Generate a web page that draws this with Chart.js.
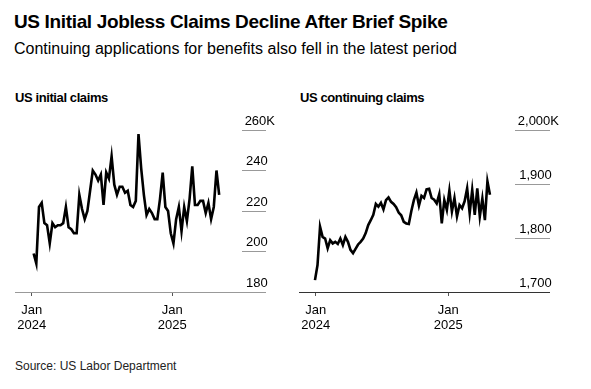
<!DOCTYPE html>
<html><head><meta charset="utf-8">
<script src="https://cdn.jsdelivr.net/npm/chart.js@4/dist/chart.umd.min.js"></script>
<style>
html,body{margin:0;padding:0;background:#fff;}
#wrap{position:relative;width:591px;height:389px;overflow:hidden;font-family:"Liberation Sans",Arial,sans-serif;color:#000;background:#fff;}
.t{position:absolute;white-space:nowrap;line-height:1;}
#title{left:14px;top:12px;font-size:19px;font-weight:bold;letter-spacing:-0.35px;}
#sub{left:14px;top:41px;font-size:16px;}
.pt{top:90.5px;font-size:13px;font-weight:bold;letter-spacing:-0.4px;}
#src{left:15px;top:360px;font-size:12px;color:#222;}
.box{position:absolute;top:105px;height:227px;}
</style></head>
<body><div id="wrap">
<div class="t" id="title">US Initial Jobless Claims Decline After Brief Spike</div>
<div class="t" id="sub">Continuing applications for benefits also fell in the latest period</div>
<div class="t pt" style="left:15px">US initial claims</div>
<div class="t pt" style="left:300px">US continuing claims</div>
<div class="t" id="src">Source: US Labor Department</div>
<div class="box" style="left:0;width:285px"><canvas id="c1"></canvas></div>
<div class="box" style="left:285px;width:306px"><canvas id="c2"></canvas></div>
</div>
<script>
// ---- data (weekly, thousands) ----
const initialStart = '2024-01-06';   // first week ending date, initial claims
const continuingStart = '2023-12-30'; // first week ending date, continuing claims
const initialClaims = [199,194,222,224,214,213,204,214,212,213,
  213,214,222,212,211,209,209,228,221,216,
  220,230,240,238,235,238,223,239,236,247,
  233,228,232,232,229,230,223,222,225,258,
  241,228,218,221,219,216,216,226,239,222,
  220,209,204,216,222,210,222,215,226,242,
  223,223,225,225,219,224,216,222,240,228];
const continuingClaims = [1722,1750,1821,1802,1799,1781,1796,1790,1793,1789,
  1799,1787,1802,1793,1778,1772,1780,1788,1793,1799,
  1809,1824,1833,1843,1863,1858,1865,1853,1870,1875,
  1867,1863,1857,1847,1842,1830,1827,1826,1850,1870,
  1884,1860,1878,1874,1890,1891,1874,1871,1864,1881,
  1827,1870,1852,1888,1849,1874,1840,1861,1855,1868,
  1892,1846,1889,1843,1892,1840,1873,1833,1905,1880];
const xTickDates = ['2024-01-01','2025-01-01'];
const xTickLabels = [['Jan','2024'],['Jan','2025']];
const leftYTicks = [180,200,220,240,260];
const leftYLabels = ['180','200','220','240','260K'];
const rightYTicks = [1700,1800,1900,2000];
const rightYLabels = ['1,700','1,800','1,900','2,000K'];

const ORIGIN = Date.UTC(2024,0,1);
function dayOf(s){const p=s.split('-').map(Number);return (Date.UTC(p[0],p[1]-1,p[2])-ORIGIN)/86400000;}
function weekly(start,n){const d0=dayOf(start);const out=[];for(let i=0;i<n;i++)out.push(d0+7*i);return out;}
const xTickDays = xTickDates.map(dayOf);
const FS = '\u2007';

function makeChart(id, startDate, values, yTicks, yLabels, o){
  const days = weekly(startDate, values.length);
  const pts = values.map((v,i)=>({x:days[i], y:v}));
  return new Chart(document.getElementById(id), {
    type:'line',
    data:{datasets:[{data:pts,borderColor:'#000',borderWidth:2.6,pointRadius:0,tension:0,fill:false}]},
    options:{
      responsive:true, maintainAspectRatio:false, animation:false,
      layout:{padding:{left:o.padL,right:o.padR,top:25,bottom:0}},
      plugins:{legend:{display:false},tooltip:{enabled:false}},
      scales:{
        x:{type:'linear',min:o.xmin,max:o.xmax,
          afterBuildTicks:s=>{s.ticks=xTickDays.map(v=>({value:v}));},
          afterFit:s=>{s.height=40;s.paddingLeft=0;s.paddingRight=0;},
          border:{display:true,color:o.axisColor,width:1},
          grid:{display:true,drawOnChartArea:false,drawTicks:true,tickLength:4,color:'#555'},
          ticks:{autoSkip:false,maxRotation:0,padding:7,color:'#000',
            font:{family:'"Liberation Sans", Arial, sans-serif',size:13,lineHeight:'15px'},
            callback:(v,i)=>xTickLabels[i]}
        },
        y:{type:'linear',position:'right',min:yTicks[0],max:yTicks[yTicks.length-1],
          afterBuildTicks:s=>{s.ticks=yTicks.map(v=>({value:v}));},
          afterFit:s=>{s.width=o.tickLen;s.paddingTop=0;s.paddingBottom=0;},
          border:{display:false},
          grid:{display:true,drawOnChartArea:false,drawTicks:true,tickLength:o.tickLen,
            color:c=>(c.tick && c.tick.value===yTicks[0])?o.axisColor:'#999'},
          ticks:{mirror:true,padding:o.tickLen+9,labelOffset:-9,color:'#000',
            font:{family:'"Liberation Sans", Arial, sans-serif',size:13},
            callback:(v,i)=>(yLabels[i].endsWith('K')?yLabels[i]:yLabels[i]+FS)}
        }
      }
    }
  });
}
// left: chart area 15..242 px, Jan 2024 at 31.7, Jan 2025 at 172.3
const k1 = (172.3-31.7)/366;
makeChart('c1', initialStart, initialClaims, leftYTicks, leftYLabels,
  {padL:15,padR:19,tickLen:24,axisColor:'#999',xmin:(15-31.7)/k1,xmax:(242-31.7)/k1});
// right (relative to box at 285): chart area 14.3..230, Jan 2024 at 30.7, Jan 2025 at 163.3
const k2 = (163.3-30.7)/366;
makeChart('c2', continuingStart, continuingClaims, rightYTicks, rightYLabels,
  {padL:14.3,padR:41,tickLen:35,axisColor:'#333',xmin:(14.3-30.7)/k2,xmax:(230-30.7)/k2});
</script>
</body></html>
